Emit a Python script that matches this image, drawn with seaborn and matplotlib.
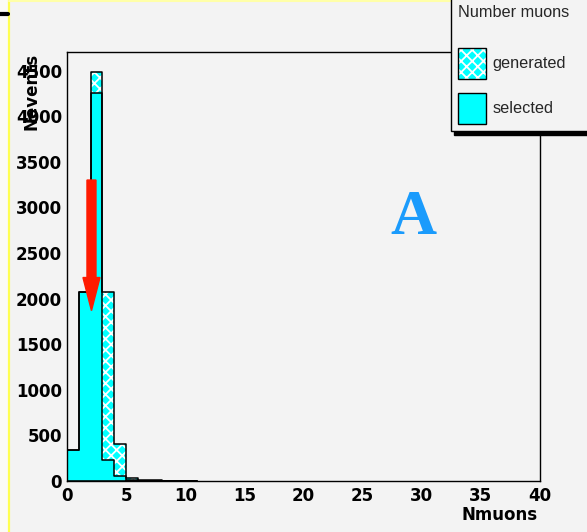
import numpy as np
import pandas as pd
import matplotlib
matplotlib.use("Agg")
import matplotlib.pyplot as plt
import seaborn as sns
from matplotlib.patches import Patch, Rectangle
from matplotlib.lines import Line2D
from matplotlib.ticker import MultipleLocator
from matplotlib.legend_handler import HandlerTuple

# ---------------- data ----------------
bin_edges = list(range(0, 12))
nmuons = [0.5, 1.5, 2.5, 3.5, 4.5, 5.5, 6.5, 7.5, 8.5, 9.5, 10.5]
generated = [337, 2075, 4480, 2075, 411, 35, 10, 6, 4, 2, 1]
selected = [337, 2075, 4250, 227, 60, 10, 3, 2, 1, 0, 0]
series_labels = ["generated", "selected"]
legend_title = "Number muons"
x_ticks = [0, 5, 10, 15, 20, 25, 30, 35, 40]
x_tick_labels = ["0", "5", "10", "15", "20", "25", "30", "35", "40"]
y_ticks = [0, 500, 1000, 1500, 2000, 2500, 3000, 3500, 4000, 4500]
y_tick_labels = ["0", "500", "1000", "1500", "2000", "2500", "3000", "3500", "4000", "4500"]
arrow_x, arrow_top, arrow_tip = 2.07, 3300, 1868

# ---------------- style ----------------
sns.set_theme(style="white")
plt.rcParams["font.family"] = ["DejaVu Sans"]
plt.rcParams["hatch.color"] = "white"
plt.rcParams["hatch.linewidth"] = 1.3

BG = "#f3f3f3"
W, H = 587, 532
fig = plt.figure(figsize=(W / 100, H / 100), dpi=100, facecolor=BG)

# slide decorations
fig.add_artist(Rectangle((0, 0), 8 / W, 1, transform=fig.transFigure,
                         facecolor="#fbfbf6", edgecolor="none", zorder=0))
fig.add_artist(Line2D([9 / W, 9 / W], [0, 1], transform=fig.transFigure,
                      color="#ffff50", lw=1.6))
fig.add_artist(Line2D([9 / W, 1], [1 - 0.8 / H, 1 - 0.8 / H], transform=fig.transFigure,
                      color="#ffffa8", lw=1.5))
fig.add_artist(Line2D([0, 8 / W], [1 - 14 / H, 1 - 14 / H], transform=fig.transFigure,
                      color="black", lw=3))

ax = fig.add_axes([67 / W, 1 - 481 / H, (540 - 67) / W, (481 - 52) / H])
ax.set_facecolor(BG)

df = pd.DataFrame({"Nmuons": nmuons, "generated": generated, "selected": selected})

# generated: hatched fill + black outline
sns.histplot(data=df, x="Nmuons", weights="generated", bins=bin_edges,
             element="step", fill=True, color="cyan", alpha=1,
             edgecolor="white", linewidth=0, hatch="xxx", ax=ax)
sns.histplot(data=df, x="Nmuons", weights="generated", bins=bin_edges,
             element="step", fill=False, color="black", linewidth=1.1, ax=ax)
# selected: solid fill with outline
sns.histplot(data=df, x="Nmuons", weights="selected", bins=bin_edges,
             element="step", fill=True, color="cyan", alpha=1,
             edgecolor="black", linewidth=1.1, ax=ax)

ax.set_xlim(0, 40)
ax.set_ylim(0, 4704)

ax.arrow(arrow_x, arrow_top, 0, arrow_tip - arrow_top, width=0.76,
         head_width=1.44, head_length=363, length_includes_head=True,
         facecolor="#ff1a00", edgecolor="#ff1a00", zorder=5)

ax.text(29.3, 2703, "A", family="Liberation Serif", fontweight="bold",
        fontsize=46, color="#1a9bfc", ha="center", va="baseline")

# ticks
ax.set_xticks(x_ticks)
ax.set_xticklabels(x_tick_labels, fontweight="bold", fontsize=12)
ax.set_yticks(y_ticks)
ax.set_yticklabels(y_tick_labels, fontweight="bold", fontsize=12)
ax.xaxis.set_minor_locator(MultipleLocator(1))
ax.yaxis.set_minor_locator(MultipleLocator(100))
ax.tick_params(which="both", direction="in", top=False, right=False,
               color="black", width=0.8, labelcolor="black")
ax.tick_params(which="major", length=9.4)
ax.tick_params(axis="x", which="major", pad=4)
ax.tick_params(axis="y", which="major", pad=3.5)
ax.tick_params(which="minor", length=5)
for s in ax.spines.values():
    s.set_color("black")
    s.set_linewidth(1.0)

ax.set_xlabel("Nmuons", loc="right", fontweight="bold", fontsize=12, color="black")
ax.xaxis.set_label_coords(0.995, -0.058)
ax.set_ylabel("Nevents", loc="top", fontweight="bold", fontsize=12, color="black")
ax.yaxis.set_label_coords(-0.074, 0.997)
ax.yaxis.label.set_va("center")

# legend
gen_handle = (Patch(facecolor="cyan", edgecolor="white", hatch="xxx", linewidth=0),
              Patch(facecolor="none", edgecolor="black", linewidth=1))
sel_handle = Patch(facecolor="cyan", edgecolor="black", linewidth=1)
leg = fig.legend([gen_handle, sel_handle], series_labels,
                 handler_map={tuple: HandlerTuple(ndivide=1)},
                 title=legend_title, alignment="left",
                 loc="upper left", bbox_to_anchor=(451 / W, 0.5, 0.3, 0.5 + 2 / H), mode="expand",
                 prop={"family": "Liberation Sans", "size": 11.7},
                 title_fontproperties={"family": "Liberation Sans", "size": 11.7},
                 frameon=True, fancybox=False, edgecolor="black", facecolor=BG,
                 framealpha=1, borderpad=0.45, labelspacing=0.86,
                 handlelength=1.72, handleheight=2.56, handletextpad=0.4,
                 borderaxespad=0, shadow={"color": "black", "alpha": 1, "ox": 2, "oy": -3})
leg.get_frame().set_linewidth(1.0)
leg._legend_box.sep = 19.6

fig.savefig("out.png", dpi=100, facecolor=BG)
